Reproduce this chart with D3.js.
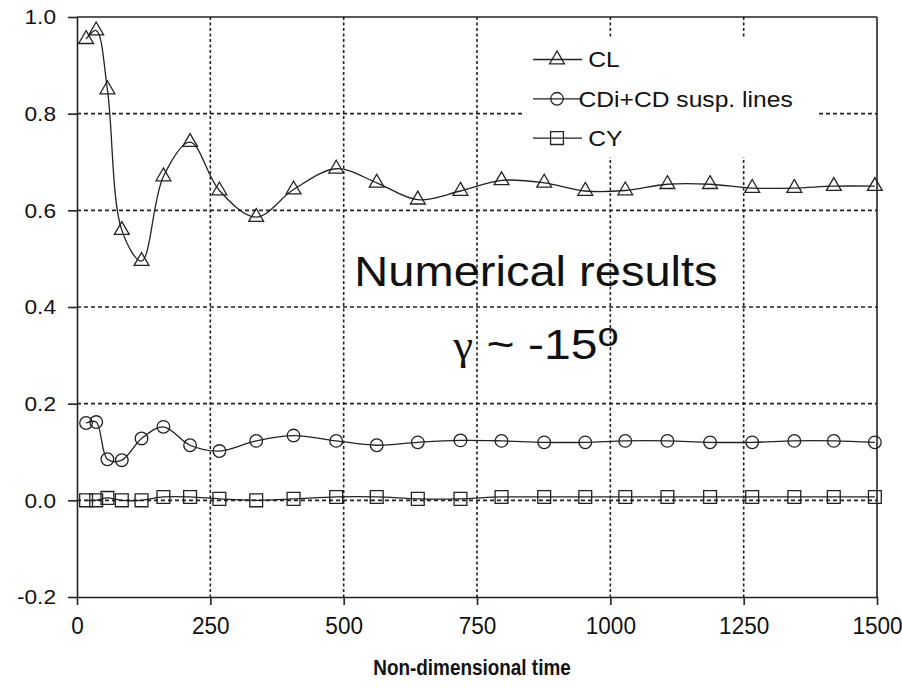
<!DOCTYPE html>
<html>
<head>
<meta charset="utf-8">
<script src="https://cdn.jsdelivr.net/npm/d3@7"></script>
<style>
    body { margin: 0; background: #fff; }
    svg { display: block; font-family: "Liberation Sans", Arial, sans-serif; }
    .axis path, .axis line { stroke: #222; stroke-width: 1.6; }
    .axis text { fill: #111; }
    .grid line { stroke: #222; stroke-width: 1.6; }
    .wide { transform-box: fill-box; transform-origin: 50% 50%; transform: scaleX(1.12); }
    .wide-r { transform-box: fill-box; transform-origin: 100% 50%; transform: scaleX(1.08); }
    .narrow { transform-box: fill-box; transform-origin: 50% 50%; transform: scaleX(0.94); }
    .title { transform-box: fill-box; transform-origin: 50% 50%; transform: scaleX(0.86); }
</style>
</head>
<body>
<script>
// sample times (shared by the three series)
var times = [17, 36, 57, 84, 121, 162, 212, 267, 336, 406, 486, 562, 639, 719, 796, 876, 953, 1028, 1107, 1187, 1266, 1345, 1419, 1496];

var clValues = [0.954, 0.972, 0.850, 0.559, 0.495, 0.670, 0.741, 0.641, 0.586, 0.643, 0.686, 0.657,
                0.622, 0.640, 0.662, 0.657, 0.640, 0.641, 0.654, 0.654, 0.646, 0.646, 0.650, 0.650];
var cdValues = [0.160, 0.162, 0.085, 0.083, 0.128, 0.152, 0.114, 0.102, 0.123, 0.134, 0.123, 0.114,
                0.120, 0.124, 0.123, 0.120, 0.120, 0.123, 0.123, 0.120, 0.120, 0.123, 0.123, 0.120];
var cyValues = [0.000, 0.000, 0.005, 0.000, 0.000, 0.007, 0.007, 0.003, 0.000, 0.003, 0.007, 0.007,
                0.003, 0.003, 0.007, 0.007, 0.007, 0.007, 0.007, 0.007, 0.007, 0.007, 0.007, 0.007];

var seriesNames = ['CL', 'CDi+CD susp. lines', 'CY'];
var xTicks = [0, 250, 500, 750, 1000, 1250, 1500];
var yTicks = [-0.2, 0.0, 0.2, 0.4, 0.6, 0.8, 1.0];
var xTitle = 'Non-dimensional time';

var series = [
    {label: seriesNames[0], values: clValues, symbol: d3.symbolTriangle, size: 95},
    {label: seriesNames[1], values: cdValues, symbol: d3.symbolCircle, size: 125},
    {label: seriesNames[2], values: cyValues, symbol: d3.symbolSquare, size: 165}
];

var width = 902, height = 688,
    marginLeft = 77, marginTop = 17, innerW = 800, innerH = 580;

var svg = d3.select('body').append('svg')
        .attr('width', width)
        .attr('height', height),
    chart = svg.append('g')
        .attr('transform', 'translate(' + marginLeft + ',' + marginTop + ')'),
    xScale = d3.scaleLinear().domain([0, 1500]).range([0, innerW]),
    yScale = d3.scaleLinear().domain([-0.2, 1.0]).range([innerH, 0]),
    line = d3.line()
        .x(function(d) { return xScale(d[0]); })
        .y(function(d) { return yScale(d[1]); })
        .curve(d3.curveCatmullRom);

// grid
chart.append('g')
    .attr('class', 'grid')
    .selectAll('line')
    .data(yTicks.filter(function(v) { return v > -0.2 && v < 1.0; }))
    .enter()
    .append('line')
    .attr('x1', 0)
    .attr('x2', innerW)
    .attr('y1', function(d) { return yScale(d); })
    .attr('y2', function(d) { return yScale(d); })
    .attr('stroke-dasharray', '4,3');

chart.append('g')
    .attr('class', 'grid')
    .selectAll('line')
    .data(xTicks.filter(function(v) { return v > 0 && v < 1500; }))
    .enter()
    .append('line')
    .attr('x1', function(d) { return xScale(d); })
    .attr('x2', function(d) { return xScale(d); })
    .attr('y1', 0)
    .attr('y2', innerH)
    .attr('stroke-dasharray', '3,2.5');

// white box behind legend hides the grid there
chart.append('rect')
    .attr('x', 448)
    .attr('y', 20)
    .attr('width', 291)
    .attr('height', 120)
    .attr('fill', '#fff');

// axes and frame
var xAxis = d3.axisBottom(xScale).tickValues(xTicks).tickSize(8).tickPadding(12).tickSizeOuter(0)
        .tickFormat(d3.format('d')),
    yAxis = d3.axisLeft(yScale).tickValues(yTicks).tickSize(9).tickPadding(12).tickSizeOuter(0)
        .tickFormat(function(d) { return d3.format('.1f')(d).replace('\u2212', '-'); });

var xx = chart.append('g')
    .attr('class', 'x axis')
    .attr('transform', 'translate(0,' + innerH + ')')
    .call(xAxis);
xx.selectAll('text')
    .attr('class', 'narrow')
    .style('font-size', '24px');

var yy = chart.append('g')
    .attr('class', 'y axis')
    .call(yAxis);
yy.selectAll('text')
    .attr('class', 'wide-r')
    .style('font-size', '21px');

chart.append('line')
    .attr('x1', 0).attr('x2', innerW)
    .attr('y1', 0).attr('y2', 0)
    .attr('stroke', '#222').attr('stroke-width', 1.6);
chart.append('line')
    .attr('x1', innerW).attr('x2', innerW)
    .attr('y1', 0).attr('y2', innerH)
    .attr('stroke', '#222').attr('stroke-width', 1.6);

// series
var groups = chart.append('g').selectAll('.serie')
    .data(series)
    .enter()
    .append('g')
    .attr('class', 'serie');

groups.append('path')
    .datum(function(d) { return d.values.map(function(v, i) { return [times[i], v]; }); })
    .attr('d', line)
    .attr('fill', 'none')
    .attr('stroke', '#222')
    .attr('stroke-width', 1.3);

groups.selectAll('.pt')
    .data(function(d) {
        return d.values.map(function(v, i) { return {t: times[i], v: v, s: d}; });
    })
    .enter()
    .append('path')
    .attr('class', 'pt')
    .attr('transform', function(d) { return 'translate(' + xScale(d.t) + ',' + yScale(d.v) + ')'; })
    .attr('d', function(d) { return d3.symbol().type(d.s.symbol).size(d.s.size)(); })
    .attr('fill', 'none')
    .attr('stroke', '#222')
    .attr('stroke-width', 1.3);

// legend
var legend = chart.append('g').selectAll('.legend')
    .data(series)
    .enter()
    .append('g')
    .attr('class', 'legend')
    .attr('transform', function(d, i) { return 'translate(456,' + (42.5 + i * 39.3) + ')'; });

legend.append('line')
    .attr('x1', 0).attr('x2', 49)
    .attr('stroke', '#222').attr('stroke-width', 1.3);
legend.append('path')
    .attr('transform', 'translate(24,0)')
    .attr('d', function(d) { return d3.symbol().type(d.symbol).size(d.size)(); })
    .attr('fill', 'none')
    .attr('stroke', '#222')
    .attr('stroke-width', 1.3);
legend.append('text')
    .attr('class', 'wide')
    .attr('x', 57)
    .attr('dy', '0.35em')
    .style('font-size', '22px')
    .attr('fill', '#111')
    .text(function(d) { return d.label; });

// annotations
chart.append('text')
    .attr('class', 'wide')
    .attr('x', 459)
    .attr('y', 269.5)
    .attr('text-anchor', 'middle')
    .style('font-size', '42px')
    .attr('fill', '#111')
    .text('Numerical results');

var gamma = chart.append('text')
    .attr('class', 'wide')
    .attr('x', 459)
    .attr('y', 342)
    .attr('text-anchor', 'middle')
    .style('font-size', '43px')
    .attr('fill', '#111');
gamma.append('tspan')
    .style('font-family', '"Liberation Serif", "DejaVu Serif", serif')
    .style('font-size', '40px')
    .text('\u03b3');
gamma.append('tspan').text(' ~ -15');
gamma.append('tspan')
    .attr('dy', -13)
    .style('font-size', '34px')
    .text('o');

// x title
svg.append('text')
    .attr('class', 'title')
    .attr('x', 472)
    .attr('y', 675)
    .attr('text-anchor', 'middle')
    .style('font-size', '22px')
    .style('font-weight', 'bold')
    .attr('fill', '#111')
    .text(xTitle);
</script>
</body>
</html>
